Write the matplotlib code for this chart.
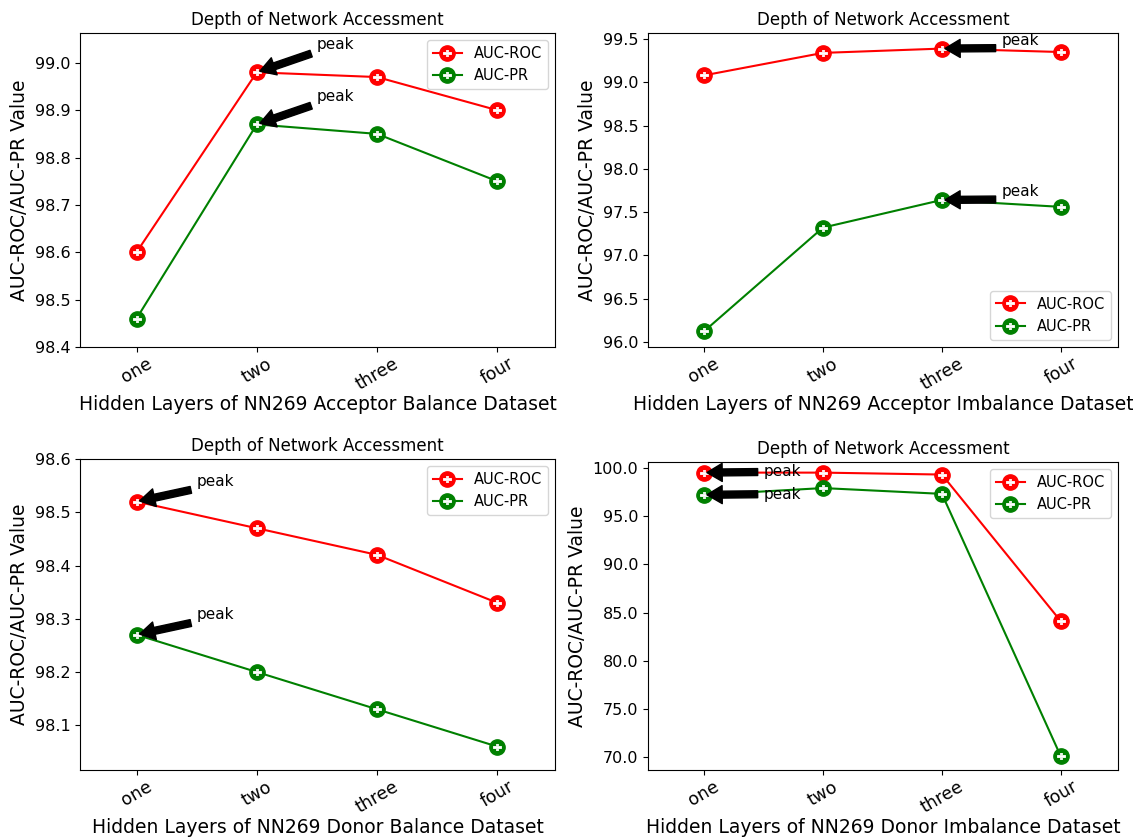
import numpy as np
import matplotlib.pyplot as plt
from matplotlib.legend_handler import HandlerTuple

layers = ['one', 'two', 'three', 'four']

acc_bal_roc = [98.60, 98.98, 98.97, 98.90]
acc_bal_pr = [98.46, 98.87, 98.85, 98.75]
acc_imb_roc = [99.08, 99.34, 99.39, 99.35]
acc_imb_pr = [96.12, 97.32, 97.64, 97.56]
don_bal_roc = [98.52, 98.47, 98.42, 98.33]
don_bal_pr = [98.27, 98.20, 98.13, 98.06]
don_imb_roc = [99.5, 99.5, 99.3, 84.1]
don_imb_pr = [97.2, 97.9, 97.3, 70.1]

xlabels = ['Hidden Layers of NN269 Acceptor Balance Dataset',
           'Hidden Layers of NN269 Acceptor Imbalance Dataset',
           'Hidden Layers of NN269 Donor Balance Dataset',
           'Hidden Layers of NN269 Donor Imbalance Dataset']

W, H = 1133, 840
fig = plt.figure(figsize=(11.33, 8.4), dpi=100)


def box(l, t, r, b):
    return [l / W, 1 - b / H, (r - l) / W, (b - t) / H]


def panel(rect, roc, pr, xlab, ylim, yticks, legloc, peaks):
    ax = fig.add_axes(rect)
    x = np.arange(len(layers))
    handles = []
    for y, c, lab in [(roc, 'red', 'AUC-ROC'), (pr, 'green', 'AUC-PR')]:
        l1, = ax.plot(x, y, color=c, lw=1.5, marker='o', ms=11, mfc=c, mec=c)
        l2, = ax.plot(x, y, ls='none', marker=r'$\div$', ms=6, color='white', mec='white', mew=0.6)
        handles.append(((l1, l2), lab))
    ax.legend([h[0] for h in handles], [h[1] for h in handles], loc=legloc,
              handler_map={tuple: HandlerTuple(ndivide=1)}, fontsize=10.5)
    for (px, py, tx, ty) in peaks:
        ax.annotate('peak', xy=(px, py), xytext=(tx, ty), fontsize=11,
                    arrowprops=dict(facecolor='black', shrink=0.05, width=5, headwidth=13, headlength=11))
    ax.set_xlim(-0.47, 3.48)
    ax.set_ylim(*ylim)
    ax.set_yticks(yticks)
    ax.set_yticklabels(['%.1f' % v for v in yticks], fontsize=11.5)
    ax.set_xticks(x)
    ax.set_xticklabels(layers, rotation=30, fontsize=12.5)
    ax.tick_params(axis='x', pad=2)
    ax.set_title('Depth of Network Accessment', fontsize=12)
    ax.set_xlabel(xlab, fontsize=13.5, labelpad=1)
    ax.set_ylabel('AUC-ROC/AUC-PR Value', fontsize=13.5)
    return ax


panel(box(80, 33, 555, 347), acc_bal_roc, acc_bal_pr, xlabels[0], (98.4, 99.063),
      np.arange(98.4, 99.05, 0.1), 'upper right',
      [(1, acc_bal_roc[1], 1.5, 99.03), (1, acc_bal_pr[1], 1.5, 98.92)])
panel(box(648, 33, 1118, 347), acc_imb_roc, acc_imb_pr, xlabels[1], (95.94, 99.57),
      np.arange(96.0, 99.6, 0.5), 'lower right',
      [(2, acc_imb_roc[2], 2.5, 99.43), (2, acc_imb_pr[2], 2.5, 97.68)])
panel(box(80, 459, 555, 770), don_bal_roc, don_bal_pr, xlabels[2], (98.016, 98.6),
      np.arange(98.1, 98.65, 0.1), 'upper right',
      [(0, don_bal_roc[0], 0.5, 98.55), (0, don_bal_pr[0], 0.5, 98.30)])
panel(box(648, 462, 1118, 770), don_imb_roc, don_imb_pr, xlabels[3], (68.7, 100.6),
      np.arange(70.0, 100.5, 5.0), 'upper right',
      [(0, don_imb_roc[0], 0.5, 99.1), (0, don_imb_pr[0], 0.5, 96.8)])

fig.savefig('out.png', dpi=100)
